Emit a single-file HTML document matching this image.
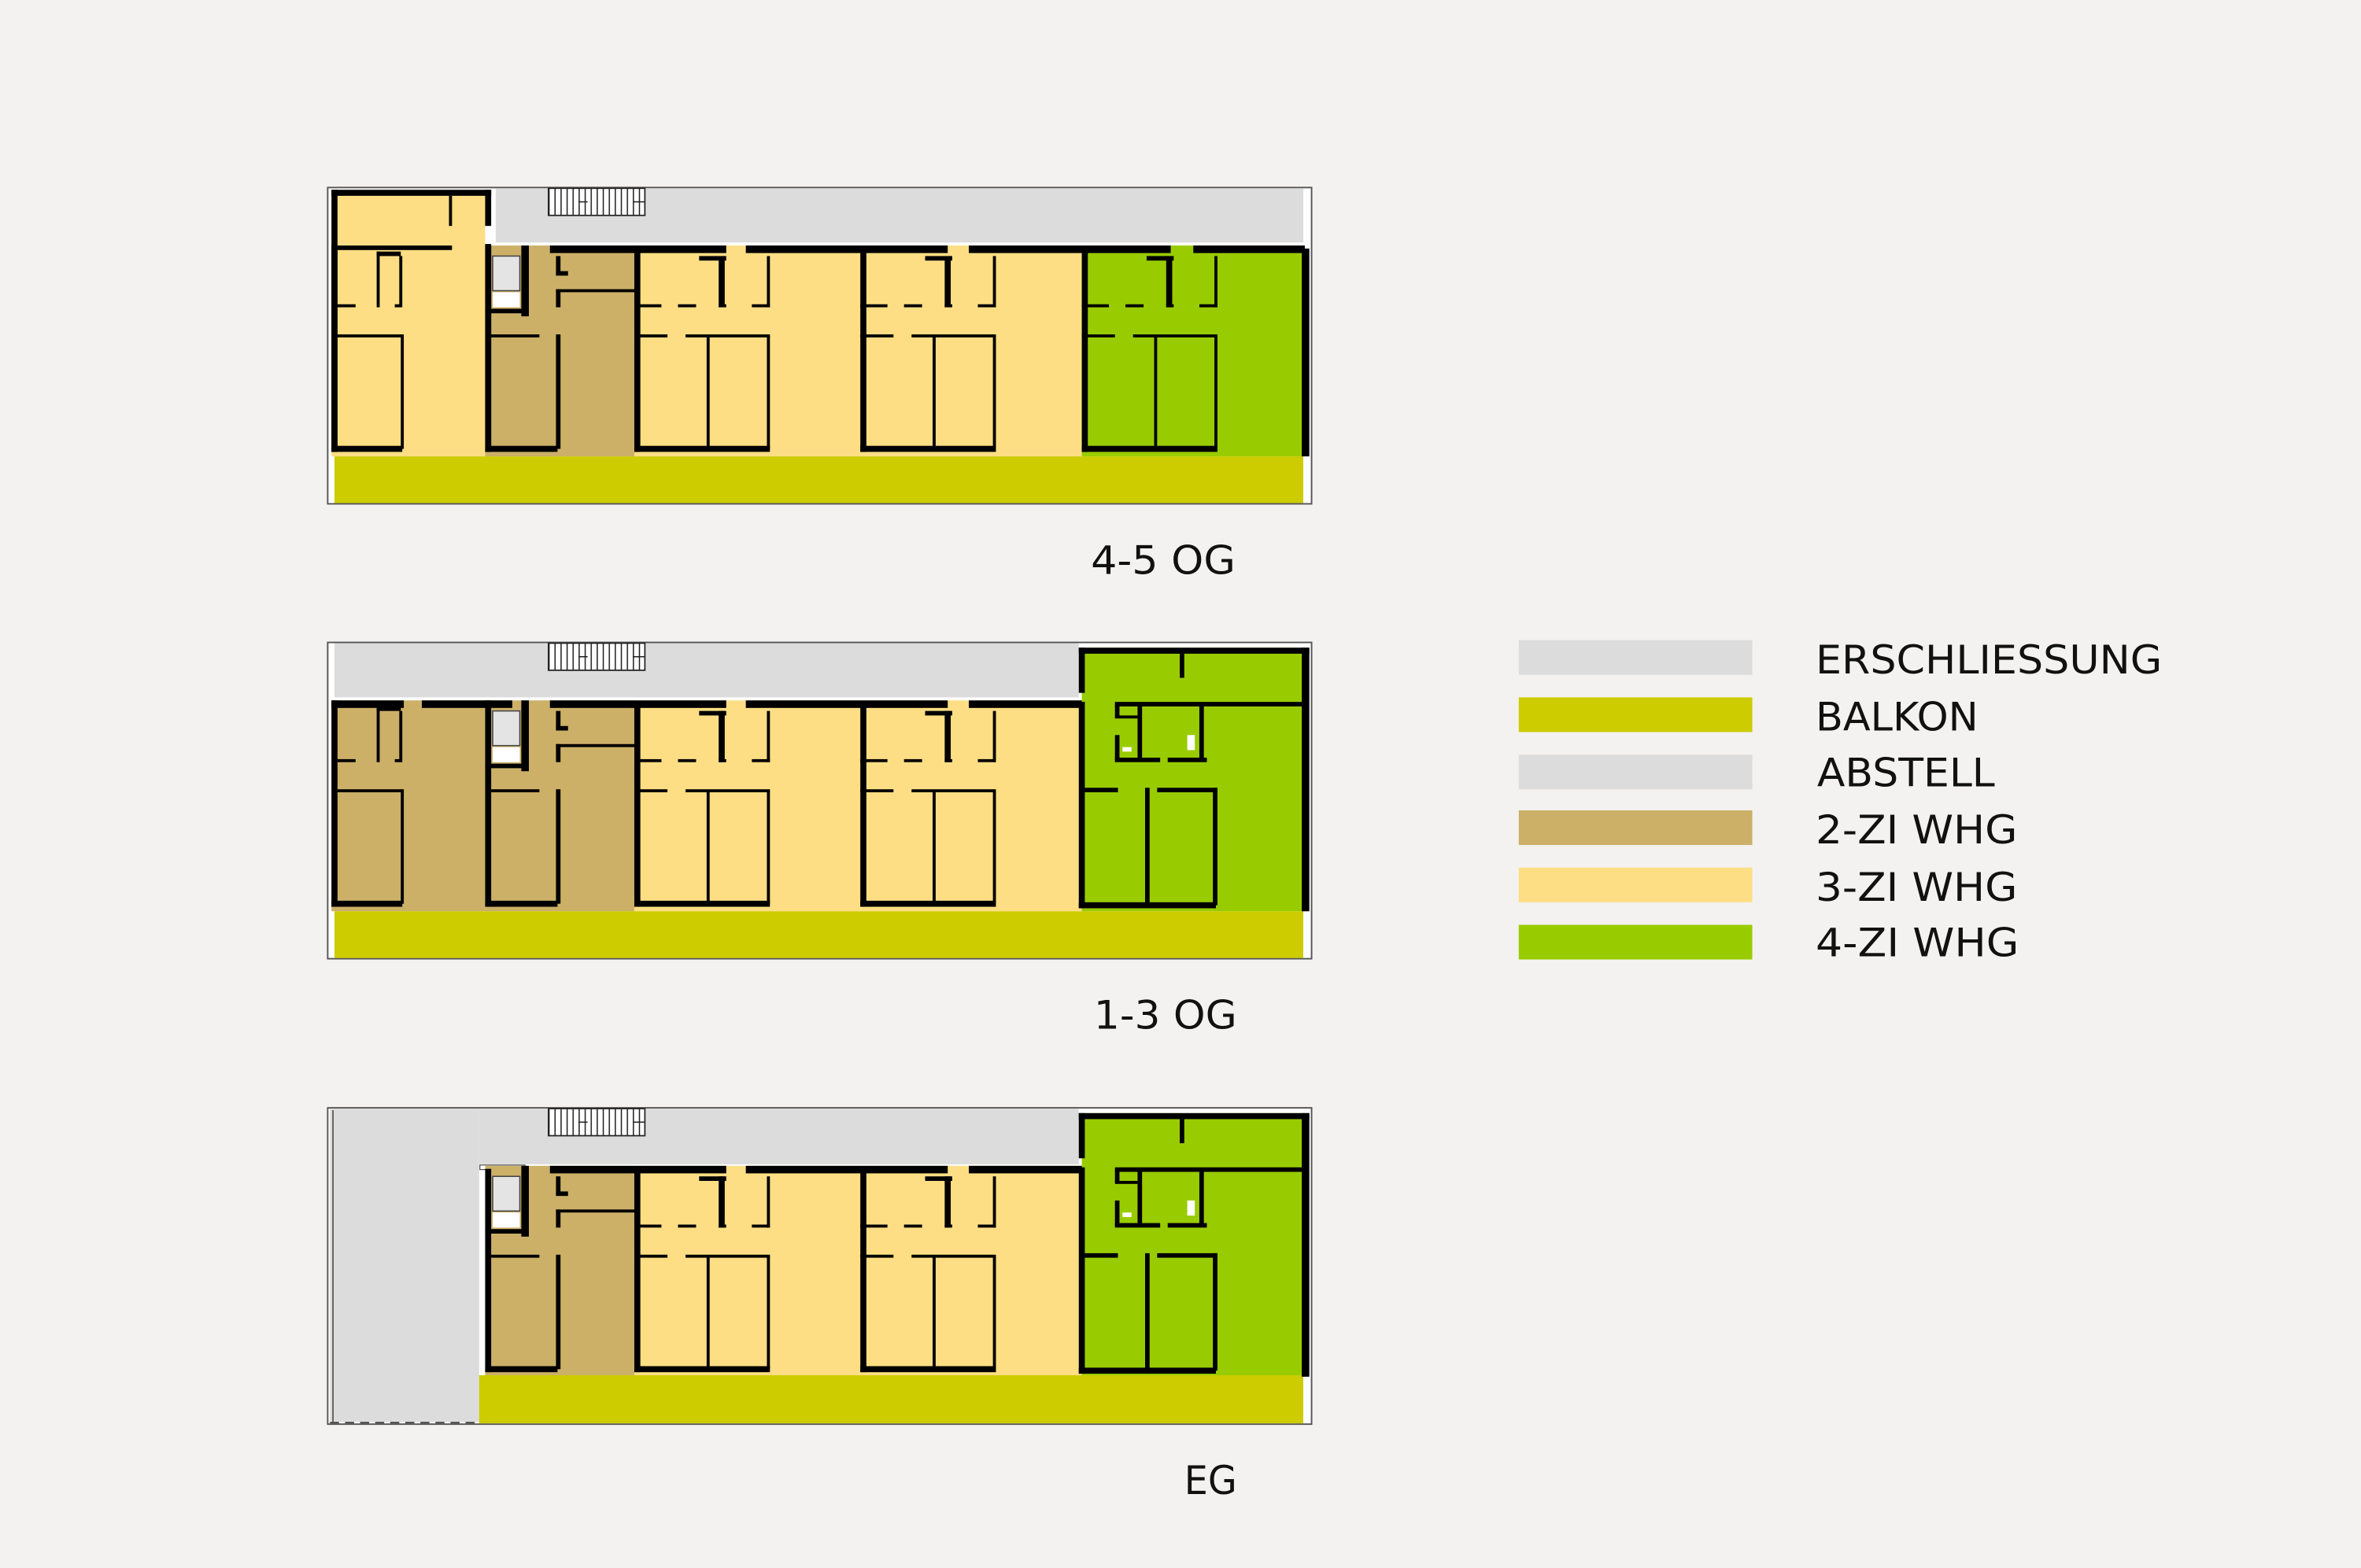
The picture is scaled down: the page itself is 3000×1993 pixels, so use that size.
<!DOCTYPE html>
<html><head><meta charset="utf-8"><style>
html,body{margin:0;padding:0;background:#F3F2F0;}
svg{display:block;}
text{font-family:"DejaVu Sans","Liberation Sans",sans-serif;fill:#111;}
</style></head><body>
<svg width="3000" height="1993" viewBox="0 0 1567 1041" preserveAspectRatio="none" xmlns="http://www.w3.org/2000/svg">
<defs>
<pattern id="st" x="364" y="0" width="4" height="20" patternUnits="userSpaceOnUse">
<rect width="4" height="20" fill="#fff"/><rect width="0.8" height="20" fill="#222"/></pattern>
<g id="stair"><rect x="364" y="125" width="64" height="18" fill="url(#st)" stroke="#222" stroke-width="0.9"/><line x1="384" y1="134" x2="390" y2="134" stroke="#222" stroke-width="0.8"/><line x1="420" y1="134" x2="428" y2="134" stroke="#222" stroke-width="0.8"/></g>
<g id="uc" fill="#000">
<rect x="421" y="165" width="4" height="135"/><rect x="421" y="296" width="90" height="4"/>
<rect x="469" y="223" width="2" height="75"/><rect x="509" y="223" width="2" height="75"/>
<rect x="509" y="170" width="2" height="34"/>
<rect x="421" y="222" width="22" height="2"/><rect x="455" y="222" width="56" height="2"/>
<rect x="421" y="202" width="18" height="2"/><rect x="450" y="202" width="12" height="2"/>
<rect x="477" y="202" width="5" height="2"/><rect x="499" y="202" width="12" height="2"/>
<rect x="477" y="170" width="4" height="34"/><rect x="464" y="170" width="18" height="3"/>
</g>
<g id="ub" fill="#000">
<rect x="327" y="170" width="18" height="23" fill="#e4e4e4" stroke="#444" stroke-width="0.8"/>
<rect x="327" y="194" width="18" height="10" fill="#fff"/>
<rect x="322" y="205" width="29" height="3"/>
<rect x="346" y="163" width="5" height="47"/>
<rect x="369" y="192" width="52" height="2"/><rect x="369" y="192" width="3" height="12"/>
<rect x="369" y="222" width="3" height="76"/>
<rect x="369" y="170" width="3" height="12"/><rect x="369" y="180" width="8" height="3"/>
<rect x="326" y="222" width="32" height="2"/>
<rect x="322" y="296" width="48" height="4"/>
</g>
<g id="ualow" fill="#000">
<rect x="220" y="163" width="4" height="137"/>
<rect x="224" y="202" width="12" height="2"/><rect x="262" y="202" width="4" height="2"/>
<rect x="250" y="167" width="2" height="37"/><rect x="250" y="167" width="16" height="3"/>
<rect x="265" y="170" width="2" height="34"/>
<rect x="224" y="222" width="43" height="2"/><rect x="266" y="222" width="2" height="76"/>
<rect x="220" y="296" width="47" height="4"/>
<rect x="322" y="163" width="4" height="137"/>
</g>
<g id="eg" fill="#000">
<rect x="716" y="430" width="153" height="4"/><rect x="864" y="430" width="5" height="175"/>
<rect x="716" y="430" width="4" height="30"/><rect x="716" y="466" width="4" height="137"/>
<rect x="716" y="599" width="91" height="4"/>
<rect x="740" y="466" width="126" height="3"/><rect x="783" y="432" width="3" height="18"/>
<rect x="740" y="468" width="3" height="8"/><rect x="740" y="488" width="3" height="17"/>
<rect x="740" y="503" width="30" height="3"/><rect x="775" y="503" width="26" height="3"/>
<rect x="755" y="468" width="3" height="36"/><rect x="740" y="475" width="15" height="2"/>
<rect x="796" y="468" width="3" height="36"/>
<rect x="788" y="488" width="5" height="10" fill="#fff"/><rect x="745" y="496" width="6" height="3" fill="#fff"/>
<rect x="720" y="523" width="22" height="3"/><rect x="768" y="523" width="40" height="3"/>
<rect x="760" y="523" width="3" height="78"/><rect x="805" y="523" width="3" height="78"/>
</g>
</defs>

<!-- ===== PLAN 1 (4-5 OG) ===== -->
<rect x="217.5" y="124.5" width="653" height="210" fill="#fff" stroke="#555" stroke-width="1"/>
<rect x="329" y="125" width="536" height="36" fill="#DCDCDC"/>
<use href="#stair"/>
<rect x="220" y="127" width="102" height="176" fill="#FEDE84"/>
<rect x="322" y="163" width="99" height="140" fill="#CCB068"/>
<rect x="421" y="163" width="150" height="140" fill="#FEDE84"/>
<rect x="571" y="163" width="147" height="140" fill="#FEDE84"/>
<rect x="718" y="163" width="148" height="140" fill="#99CC00"/>
<rect x="222" y="303" width="643" height="31" fill="#CCCC00"/>
<g fill="#000">
<rect x="220" y="126" width="4" height="174"/><rect x="220" y="126" width="106" height="4"/>
<rect x="322" y="126" width="4" height="24"/><rect x="322" y="162" width="4" height="138"/>
<rect x="224" y="163" width="76" height="3"/><rect x="298" y="130" width="2" height="20"/>
<rect x="365" y="163" width="117" height="5"/><rect x="495" y="163" width="134" height="5"/>
<rect x="643" y="163" width="134" height="5"/><rect x="792" y="163" width="74" height="5"/>
<rect x="864" y="165" width="5" height="138"/>
</g>
<use href="#ualow"/>
<use href="#ub"/>
<use href="#uc"/><use href="#uc" transform="translate(150,0)"/><use href="#uc" transform="translate(297,0)"/>

<!-- ===== PLAN 2 (1-3 OG) ===== -->
<rect x="217.5" y="426.5" width="653" height="210" fill="#fff" stroke="#555" stroke-width="1"/>
<rect x="222" y="427" width="494" height="36" fill="#DCDCDC"/>
<use href="#stair" transform="translate(0,302)"/>
<rect x="220" y="465" width="102" height="140" fill="#CCB068"/>
<rect x="322" y="465" width="99" height="140" fill="#CCB068"/>
<rect x="421" y="465" width="150" height="140" fill="#FEDE84"/>
<rect x="571" y="465" width="147" height="140" fill="#FEDE84"/>
<rect x="718" y="430" width="148" height="175" fill="#99CC00"/>
<rect x="222" y="605" width="643" height="31" fill="#CCCC00"/>
<g fill="#000">
<rect x="220" y="465" width="48" height="5"/><rect x="280" y="465" width="60" height="5"/>
<rect x="365" y="465" width="117" height="5"/><rect x="495" y="465" width="134" height="5"/>
<rect x="643" y="465" width="75" height="5"/>
</g>
<use href="#ualow" transform="translate(0,302)"/>
<use href="#ub" transform="translate(0,302)"/>
<use href="#uc" transform="translate(0,302)"/><use href="#uc" transform="translate(150,302)"/>
<use href="#eg"/>

<!-- ===== PLAN 3 (EG) ===== -->
<rect x="217.5" y="735.5" width="653" height="210" fill="#fff" stroke="#555" stroke-width="1"/>
<rect x="219" y="736" width="99" height="208" fill="#DCDCDC"/>
<rect x="318" y="736" width="398" height="37" fill="#DCDCDC"/>
<line x1="221" y1="737" x2="221" y2="944" stroke="#444" stroke-width="0.8"/>
<line x1="219" y1="944.5" x2="318" y2="944.5" stroke="#444" stroke-width="1" stroke-dasharray="6,4"/>
<use href="#stair" transform="translate(0,611)"/>
<rect x="318.5" y="773.5" width="30" height="3" fill="#fff" stroke="#444" stroke-width="0.6"/>
<rect x="322" y="774" width="99" height="140" fill="#CCB068"/>
<rect x="421" y="774" width="150" height="140" fill="#FEDE84"/>
<rect x="571" y="774" width="147" height="140" fill="#FEDE84"/>
<rect x="718" y="739" width="148" height="175" fill="#99CC00"/>
<rect x="318" y="913" width="547" height="32" fill="#CCCC00"/>
<g fill="#000">
<rect x="322" y="776" width="4" height="135"/>
<rect x="365" y="774" width="117" height="5"/><rect x="495" y="774" width="134" height="5"/>
<rect x="643" y="774" width="75" height="5"/>
</g>
<use href="#ub" transform="translate(0,611)"/>
<use href="#uc" transform="translate(0,611)"/><use href="#uc" transform="translate(150,611)"/>
<use href="#eg" transform="translate(0,309)"/>

<!-- labels -->
<text x="724" y="381" font-size="26" textLength="96" lengthAdjust="spacingAndGlyphs">4-5 OG</text>
<text x="726" y="683" font-size="26" textLength="95" lengthAdjust="spacingAndGlyphs">1-3 OG</text>
<text x="786" y="992" font-size="26" textLength="35" lengthAdjust="spacingAndGlyphs">EG</text>

<!-- legend -->
<rect x="1008" y="425" width="155" height="23" fill="#DCDCDC"/>
<rect x="1008" y="463" width="155" height="23" fill="#CCCC00"/>
<rect x="1008" y="501" width="155" height="23" fill="#DCDCDC"/>
<rect x="1008" y="538" width="155" height="23" fill="#CCB068"/>
<rect x="1008" y="576" width="155" height="23" fill="#FEDE84"/>
<rect x="1008" y="614" width="155" height="23" fill="#99CC00"/>
<g font-size="26">
<text x="1205" y="447" textLength="230" lengthAdjust="spacingAndGlyphs">ERSCHLIESSUNG</text>
<text x="1205" y="485" textLength="108" lengthAdjust="spacingAndGlyphs">BALKON</text>
<text x="1206" y="522" textLength="118" lengthAdjust="spacingAndGlyphs">ABSTELL</text>
<text x="1205" y="560" textLength="134" lengthAdjust="spacingAndGlyphs">2-ZI WHG</text>
<text x="1205" y="598" textLength="134" lengthAdjust="spacingAndGlyphs">3-ZI WHG</text>
<text x="1205" y="635" textLength="135" lengthAdjust="spacingAndGlyphs">4-ZI WHG</text>
</g>
</svg>
</body></html>
